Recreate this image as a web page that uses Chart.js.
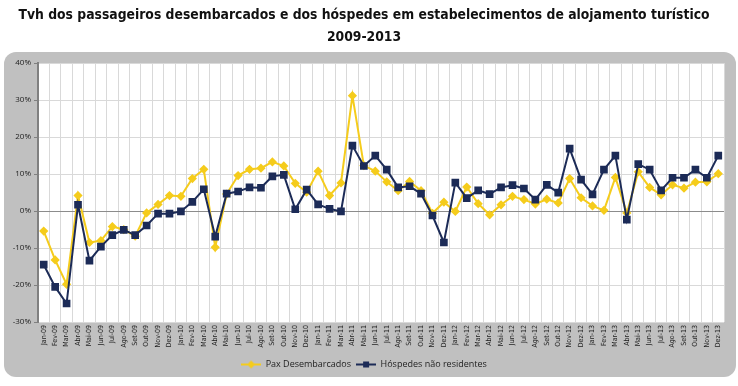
<!DOCTYPE html>
<html>
<head>
<meta charset="utf-8">
<script src="https://cdn.jsdelivr.net/npm/chart.js@4.4.0/dist/chart.umd.min.js"></script>
<style>
  html, body { margin: 0; padding: 0; background: #fff; }
  #wrap { position: relative; width: 738px; height: 386px; }
</style>
</head>
<body>
<div id="wrap"><canvas id="tvhChart"></canvas></div>
<script>
// meses jan-2009 .. dez-2013
const meses = ['Jan', 'Fev', 'Mar', 'Abr', 'Mai', 'Jun', 'Jul', 'Ago', 'Set', 'Out', 'Nov', 'Dez'];
const anos = ['09', '10', '11', '12', '13'];
const labelsMeses = [];
anos.forEach(a => meses.forEach(m => labelsMeses.push(m + '-' + a)));

// taxa de variacao homologa (%)
const dataPax = [
  -5.4, -13.2, -19.8, 4.2, -8.5, -8.0, -4.2, -5.0, -6.8, -0.5, 1.8, 4.2,
  4.0, 8.8, 11.3, -9.8, 4.6, 9.6, 11.3, 11.6, 13.3, 12.2, 7.5, 5.1,
  10.8, 4.2, 7.6, 31.2, 12.3, 10.8, 7.9, 5.5, 8.0, 5.5, -0.6, 2.4,
  -0.1, 6.5, 2.0, -1.0, 1.7, 4.0, 3.1, 1.9, 3.2, 2.2, 8.8, 3.6,
  1.4, 0.2, 9.1, -0.5, 10.6, 6.4, 4.4, 7.1, 6.2, 7.8, 7.9, 10.1
];
const dataHospedes = [
  -14.5, -20.5, -25.0, 1.7, -13.4, -9.6, -6.5, -5.1, -6.5, -3.9, -0.7, -0.7,
  -0.1, 2.5, 5.9, -6.9, 4.7, 5.3, 6.4, 6.3, 9.4, 9.8, 0.5, 5.8,
  1.8, 0.6, -0.1, 17.7, 12.2, 15.0, 11.2, 6.4, 6.7, 4.7, -1.2, -8.5,
  7.7, 3.5, 5.6, 4.6, 6.4, 7.0, 6.1, 3.1, 7.1, 5.0, 16.9, 8.5,
  4.5, 11.2, 15.0, -2.3, 12.7, 11.2, 5.6, 9.0, 9.0, 11.2, 9.0, 15.0
];

const corPax = '#f5cc1c';
const corHosp = '#1c2b57';

// icone da legenda: linha com marcador
function iconeLegenda(cor, forma) {
  const c = document.createElement('canvas');
  c.width = 20; c.height = 10;
  const g = c.getContext('2d');
  g.strokeStyle = cor; g.fillStyle = cor; g.lineWidth = 2;
  g.beginPath(); g.moveTo(0, 5); g.lineTo(20, 5); g.stroke();
  g.beginPath();
  if (forma === 'diamante') {
    g.moveTo(10, 1); g.lineTo(14, 5); g.lineTo(10, 9); g.lineTo(6, 5);
  } else {
    g.rect(7, 2, 6, 6);
  }
  g.closePath(); g.fill();
  return c;
}

// fundo cinzento arredondado + area branca do grafico
const fundoPlugin = {
  id: 'fundo',
  beforeDraw(chart) {
    const ctx = chart.ctx;
    const a = chart.chartArea;
    ctx.save();
    ctx.fillStyle = '#c0c0c0';
    ctx.beginPath();
    ctx.roundRect(4, 52, 732, 325, 12);
    ctx.fill();
    ctx.fillStyle = '#ffffff';
    ctx.fillRect(a.left, a.top, a.right - a.left, a.bottom - a.top);
    ctx.restore();
  }
};

new Chart(document.getElementById('tvhChart'), {
  type: 'line',
  data: {
    labels: labelsMeses,
    datasets: [
      {
        label: 'Pax Desembarcados',
        data: dataPax,
        borderColor: corPax,
        backgroundColor: corPax,
        borderWidth: 2,
        pointStyle: 'rectRot',
        pointRadius: 3.2,
        pointHoverRadius: 3.2,
        tension: 0,
        order: 1
      },
      {
        label: 'Hóspedes não residentes',
        data: dataHospedes,
        borderColor: corHosp,
        backgroundColor: corHosp,
        borderWidth: 2,
        pointStyle: 'rect',
        pointRadius: 4,
        pointHoverRadius: 4,
        tension: 0,
        order: 0
      }
    ]
  },
  options: {
    responsive: true,
    maintainAspectRatio: false,
    animation: false,
    layout: { padding: { left: 4, right: 14, top: 0, bottom: 7 } },
    plugins: {
      title: {
        display: true,
        text: ['Tvh dos passageiros desembarcados e dos hóspedes em estabelecimentos de alojamento turístico', '2009-2013'],
        color: '#111',
        font: { family: '"DejaVu Sans Condensed", "Liberation Sans Narrow", sans-serif', size: 13.8, weight: 'bold', lineHeight: 1.6 },
        padding: { top: 4, bottom: 15 }
      },
      legend: {
        position: 'bottom',
        labels: {
          usePointStyle: true,
          pointStyleWidth: 20,
          color: '#222',
          font: { family: '"Open Sans", sans-serif', size: 9 },
          padding: 5,
          sort: (a, b) => a.datasetIndex - b.datasetIndex,
          generateLabels: function (chart) {
            return chart.data.datasets.map((ds, i) => ({
              text: ds.label,
              datasetIndex: i,
              fontColor: '#222',
              pointStyle: iconeLegenda(ds.borderColor, i === 0 ? 'diamante' : 'quadrado'),
              fillStyle: ds.borderColor,
              strokeStyle: ds.borderColor,
              lineWidth: 0,
              hidden: false
            }));
          }
        }
      },
      tooltip: { enabled: false }
    },
    scales: {
      x: {
        offset: true,
        afterFit: s => { s.height = 33; },
        grid: {
          offset: true,
          color: '#d9d9d9',
          drawTicks: false
        },
        border: { display: false },
        ticks: {
          autoSkip: false,
          maxRotation: 90,
          minRotation: 90,
          padding: 3,
          color: '#222',
          font: { family: '"Liberation Sans Narrow", "DejaVu Sans Condensed", sans-serif', size: 7 }
        }
      },
      y: {
        min: -30,
        max: 40,
        afterFit: s => { s.width = 34; },
        grid: {
          color: ctx => (ctx.tick && ctx.tick.value === 0) ? '#8c8c8c' : '#d9d9d9',
          tickColor: '#808080',
          tickLength: 4
        },
        border: { color: '#808080', width: 2 },
        ticks: {
          stepSize: 10,
          padding: 3,
          color: '#222',
          font: { family: '"Open Sans", sans-serif', size: 8 },
          callback: v => v + '%'
        }
      }
    }
  },
  plugins: [fundoPlugin]
});
</script>
</body>
</html>
